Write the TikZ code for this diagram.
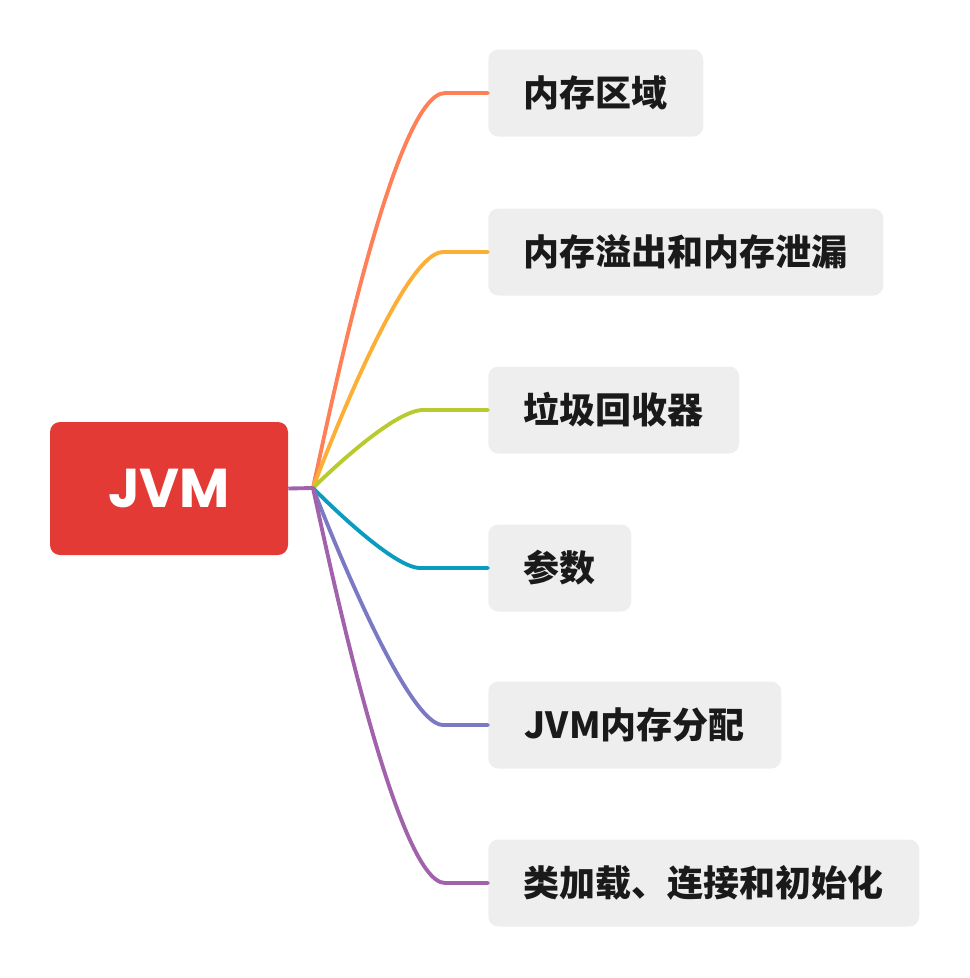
\documentclass[tikz,border=0pt]{standalone}
\usepackage{fontspec}
\setmainfont{Noto Sans CJK SC}
\newfontfamily\rootfont{Poppins}
\definecolor{rootred}{HTML}{E43A36}
\definecolor{boxgray}{HTML}{EEEEEE}
\definecolor{txt}{HTML}{1A1A1A}
\definecolor{cA}{HTML}{FF8057}
\definecolor{cB}{HTML}{FDAF35}
\definecolor{cC}{HTML}{B8CA2E}
\definecolor{cD}{HTML}{0A9BBF}
\definecolor{cE}{HTML}{7B79C3}
\definecolor{cF}{HTML}{A162AB}
\begin{document}
\begin{tikzpicture}[x=0.75pt,y=-0.75pt,
  rootbox/.style={fill=rootred,rounded corners=7.5pt,minimum width=178.5pt,minimum height=99.75pt,inner sep=0pt,text=white,font=\rootfont\bfseries\fontsize{41}{41}\selectfont},
  childbox/.style={fill=boxgray,rounded corners=7.5pt,minimum height=65.25pt,inner sep=0pt,anchor=west,text=txt,font=\bfseries\fontsize{27}{27}\selectfont},
  branch/.style={line width=2.9pt,line cap=round}]
\useasboundingbox (0,0) rectangle (970,978);
\node[rootbox] (root) at (169,488.5) {JVM};
\coordinate (j) at (313,488);
\node[childbox,minimum width=161.25pt] (n1) at (488,93) {内存区域};
\node[childbox,minimum width=296.25pt] (n2) at (488,252) {内存溢出和内存泄漏};
\node[childbox,minimum width=188.25pt] (n3) at (488,410) {垃圾回收器};
\node[childbox,minimum width=107.25pt] (n4) at (488,568) {参数};
\node[childbox,minimum width=219.75pt] (n5) at (488,725) {JVM内存分配};
\node[childbox,minimum width=323.25pt] (n6) at (488,883) {类加载、连接和初始化};
\draw[branch,cA] (j) .. controls (330,410) and (395,93) .. (445,93) -- (n1.west);
\draw[branch,cB] (j) .. controls (j) and (400,252) .. (443,252) -- (n2.west);
\draw[branch,cC] (j) .. controls (j) and (391,410) .. (423,410) -- (n3.west);
\draw[branch,cD] (j) .. controls (j) and (391,568) .. (420,568) -- (n4.west);
\draw[branch,cE] (j) .. controls (j) and (403,725) .. (443,725) -- (n5.west);
\draw[branch,cF] (j) .. controls (330,566) and (397,883) .. (445,883) -- (n6.west);
\draw[branch,cF,line cap=butt] (root.east) -- (j);
\end{tikzpicture}
\end{document}
